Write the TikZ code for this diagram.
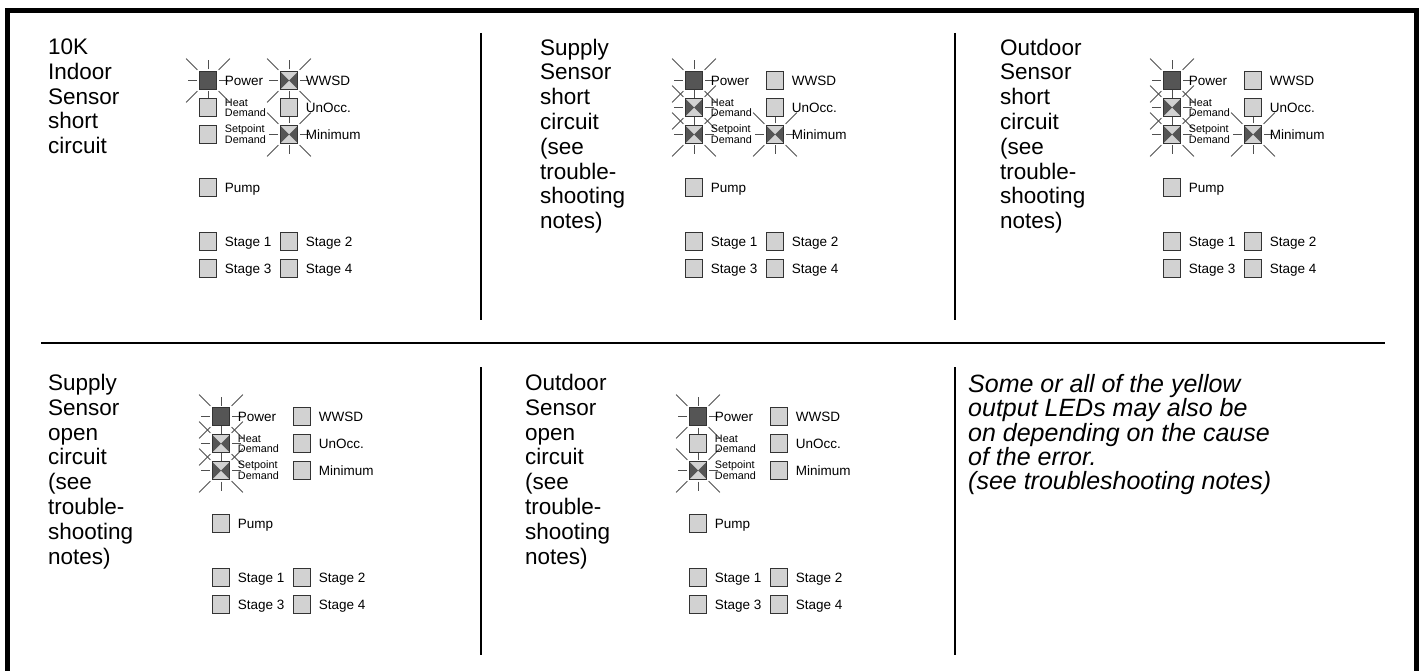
\documentclass[tikz,border=0pt]{standalone}
\usepackage{fontspec}
\setmainfont{Liberation Sans}
\usetikzlibrary{positioning,backgrounds}
\definecolor{ledgray}{HTML}{D2D2D2}
\definecolor{leddark}{HTML}{555555}
\definecolor{ledrim}{HTML}{333333}
\definecolor{raygray}{HTML}{505050}

\begin{document}
\begin{tikzpicture}[x=1pt, y=-1pt,
    led/.style={rectangle, draw=ledrim, line width=0.9pt, fill=ledgray, minimum size=17.5pt, inner sep=0pt, outer sep=0pt},
    ledon/.style={led, fill=leddark},
    ledflash/.style={led, path picture={
        \fill[leddark] (path picture bounding box.north west) -- (path picture bounding box.center) -- (path picture bounding box.south west) -- cycle;
        \fill[leddark] (path picture bounding box.north east) -- (path picture bounding box.center) -- (path picture bounding box.south east) -- cycle;}},
    ray/.style={draw=raygray, line width=0.9pt},
    lbl/.style={inner sep=0pt, font=\fontsize{13.5}{15}\selectfont, text height=9.7pt, text depth=0pt},
    tinylbl/.style={inner sep=0pt, align=left, font=\fontsize{10.8}{10}\selectfont},
    title/.style={anchor=north west, align=left, inner sep=0pt, font=\fontsize{22.5}{24.8}\selectfont},
    note/.style={anchor=north west, align=left, inner sep=0pt, font=\fontsize{25}{24.4}\selectfont\itshape},
    divider/.style={draw=black, line width=1.3pt}
]
\useasboundingbox (0,0) rectangle (1421,671);

% outer frame and panel dividers
\draw[line width=5pt, line join=miter] (7.5,671) -- (7.5,10.5) -- (1416,10.5) -- (1416,671);
\draw[divider] (41,343) -- (1385,343);
\draw[divider] (481,33) -- (481,320) (481,367) -- (481,655);
\draw[divider] (955,33) -- (955,320) (955,367) -- (955,655);

% panel titles
\node[title] (t1) at (48,38.5) {10K\\Indoor\\Sensor\\short\\circuit};
\node[title] (t2) at (540,38.5) {Supply\\Sensor\\short\\circuit\\(see\\trouble-\\shooting\\notes)};
\node[title] (t3) at (1000,38.5) {Outdoor\\Sensor\\short\\circuit\\(see\\trouble-\\shooting\\notes)};
\node[title] (t4) at (48,374) {Supply\\Sensor\\open\\circuit\\(see\\trouble-\\shooting\\notes)};
\node[title] (t5) at (525,374) {Outdoor\\Sensor\\open\\circuit\\(see\\trouble-\\shooting\\notes)};
\node[note] (t6) at (968,374) {Some or all of the yellow\\output LEDs may also be\\on depending on the cause\\of the error.\\(see troubleshooting notes)};

% LED panels: name/x/y/WWSD/Heat/Setpoint/Minimum/lit
\foreach \pn/\px/\py/\sw/\sh/\ss/\sm/\lit in {
    a/208/80.5/ledflash/led/led/ledflash/{pow,wwsd,min},
    b/694/80.5/led/ledflash/ledflash/ledflash/{pow,heat,setp,min},
    c/1172/80.5/led/ledflash/ledflash/ledflash/{pow,heat,setp,min},
    d/221/416.5/led/ledflash/ledflash/led/{pow,heat,setp},
    e/698/416.5/led/led/ledflash/led/{pow,setp}}
{
    \node[ledon] (\pn-pow) at (\px,\py) {};
    \node[\sh, below=9.5pt of \pn-pow] (\pn-heat) {};
    \node[\ss, below=9.5pt of \pn-heat] (\pn-setp) {};
    \node[\sw, right=63.5pt of \pn-pow] (\pn-wwsd) {};
    \node[led, below=9.5pt of \pn-wwsd] (\pn-unocc) {};
    \node[\sm, below=9.5pt of \pn-unocc] (\pn-min) {};
    \node[led, below=35.5pt of \pn-setp] (\pn-pump) {};
    \node[led, below=36.5pt of \pn-pump] (\pn-st1) {};
    \node[led, below=9.5pt of \pn-st1] (\pn-st3) {};
    \node[led, right=63.5pt of \pn-st1] (\pn-st2) {};
    \node[led, right=63.5pt of \pn-st3] (\pn-st4) {};

    \node[lbl, right=8pt of \pn-pow] (\pn-powl) {Power};
    \node[lbl, right=8pt of \pn-wwsd] (\pn-wwsdl) {WWSD};
    \node[tinylbl, right=8pt of \pn-heat] (\pn-heatl) {Heat\\Demand};
    \node[lbl, right=8pt of \pn-unocc] (\pn-unoccl) {UnOcc.};
    \node[tinylbl, right=8pt of \pn-setp] (\pn-setpl) {Setpoint\\Demand};
    \node[lbl, right=8pt of \pn-min] (\pn-minl) {Minimum};
    \node[lbl, right=8pt of \pn-pump] (\pn-pumpl) {Pump};
    \node[lbl, right=8pt of \pn-st1] (\pn-st1l) {Stage 1};
    \node[lbl, right=8pt of \pn-st2] (\pn-st2l) {Stage 2};
    \node[lbl, right=8pt of \pn-st3] (\pn-st3l) {Stage 3};
    \node[lbl, right=8pt of \pn-st4] (\pn-st4l) {Stage 4};

    % glow rays round the lit LEDs
    \begin{scope}[on background layer]
        \foreach \lamp in \lit
            \foreach \ang/\rin/\rlen in {0/11/9, 90/11/9, 180/11/9, 270/11/9,
                    45/15/16, 135/15/16, 225/15/16, 315/15/16}
                \draw[ray] (\pn-\lamp.center) ++(\ang:\rin) -- ++(\ang:\rlen);
    \end{scope}
}
\end{tikzpicture}
\end{document}
